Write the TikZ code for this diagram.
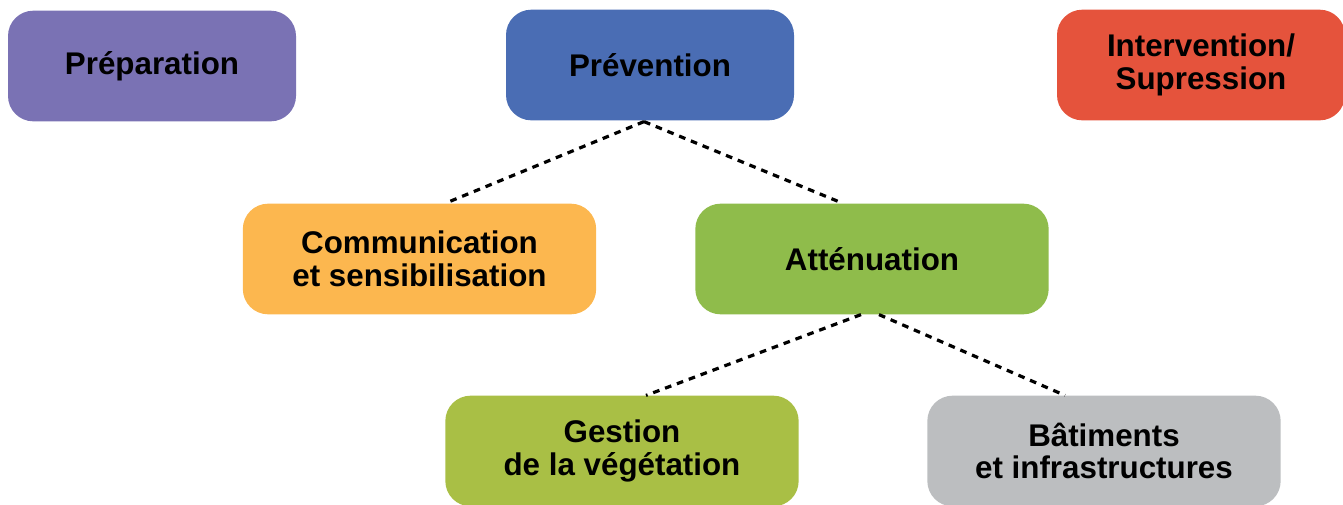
\documentclass[tikz,border=0pt]{standalone}
\usepackage{fontspec}
\setmainfont{Liberation Sans}
\usetikzlibrary{calc}
\definecolor{prepcol}{HTML}{7A72B4}
\definecolor{prevcol}{HTML}{4A6DB4}
\definecolor{intercol}{HTML}{E5533C}
\definecolor{commcol}{HTML}{FCB74F}
\definecolor{attencol}{HTML}{8FBC4B}
\definecolor{vegcol}{HTML}{A9BF45}
\definecolor{batcol}{HTML}{BCBEC0}
\tikzset{
  phase/.style={rectangle, rounded corners=19pt, minimum width=216pt, minimum height=83pt,
    inner sep=0pt, align=center, font=\fontsize{23.5}{24.5}\selectfont\bfseries},
  action/.style={phase, minimum width=265pt},
  link/.style={line width=2.4pt, dash pattern=on 5pt off 4.5pt}
}
\begin{document}
\begin{tikzpicture}[x=0.75pt, y=-0.75pt]
  \useasboundingbox (0,0) rectangle (1343,504);
  % top row
  \node [phase, fill=prepcol](prep) at (152,66) {Préparation};
  \node [phase, fill=prevcol](prev) at (650,65) {Prévention};
  \node [phase, fill=intercol](interv) at (1201,65) {Intervention/\\Supression};

  % second row
  \node [action, fill=commcol](comm) at (419.5,259) {Communication\\et sensibilisation};
  \node [action, fill=attencol](atten) at (872,259) {Atténuation};

  % third row
  \node [action, fill=vegcol](veget) at (622,451) {Gestion\\de la végétation};
  \node [action, fill=batcol](batim) at (1104,451) {Bâtiments\\et infrastructures};

  \draw[link] ($(prev.south)+(-6,1)$) -- ($(comm.north)+(25.5,0)$);
  \draw[link] ($(prev.south)+(-6,1)$) -- ($(atten.north)+(-29,0)$);
  \draw[link] ($(atten.south)+(-11,0)$) -- ($(veget.north)+(24,0)$);
  \draw[link] ($(atten.south)+(7,0)$) -- ($(batim.north)+(-39,0)$);
\end{tikzpicture}
\end{document}
